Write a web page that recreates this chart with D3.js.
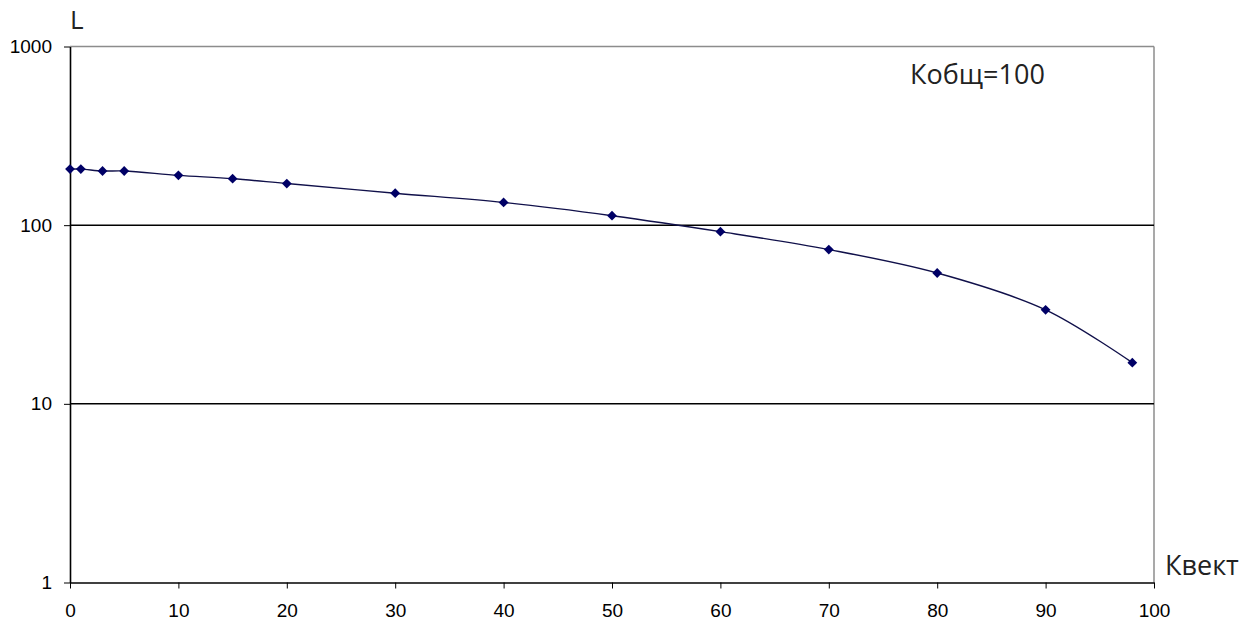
<!DOCTYPE html>
<html>
<head>
<meta charset="utf-8">
<script src="https://cdn.jsdelivr.net/npm/d3@7"></script>
<style>
  body { margin: 0; background: #fff; }
  svg { display: block; }
</style>
</head>
<body>
<div id="chart"></div>
<script>
// values
const kvekt = [0, 1, 3, 5, 10, 15, 20, 30, 40, 50, 60, 70, 80, 90, 98];
const lengths = [206, 206, 201, 201, 190, 182, 171, 151, 134, 113, 92, 73, 54, 33.6, 17];
const xTicks = [0, 10, 20, 30, 40, 50, 60, 70, 80, 90, 100];
const yTicks = [1, 10, 100, 1000];
const note = "Кобщ=100";

//Dimensions and margins
var margin = { top: 46.5, right: 105, bottom: 39.5, left: 70 },
    width = 1259 - margin.left - margin.right,
    height = 622 - margin.top - margin.bottom;

var svg = d3.select("#chart")
    .append("svg")
    .attr("width", 1259)
    .attr("height", 622)
    .append("g")
    .attr("transform", "translate(" + margin.left + "," + margin.top + ")");

var x = d3.scaleLinear().domain([0, 100]).range([0, width]);
var y = d3.scaleLog().domain([1, 1000]).range([height, 0]);

//Plot area border (top and right, grey)
svg.append("line")
    .attr("x1", 0).attr("x2", width)
    .attr("y1", y(1000)).attr("y2", y(1000))
    .attr("stroke", "#8c8c8c").attr("stroke-width", 1.5);
svg.append("line")
    .attr("x1", width).attr("x2", width)
    .attr("y1", 0).attr("y2", height)
    .attr("stroke", "#8c8c8c").attr("stroke-width", 1.5);

//Gridlines
svg.selectAll(".grid")
    .data([10, 100])
    .enter().append("line")
    .attr("x1", 0).attr("x2", width)
    .attr("y1", d => y(d)).attr("y2", d => y(d))
    .attr("stroke", "#000").attr("stroke-width", 1.5);

//X axis
var xAxis = svg.append("g")
    .attr("transform", "translate(0," + height + ")")
    .call(d3.axisBottom(x).tickValues(xTicks).tickSize(6).tickPadding(15).tickSizeOuter(0));
xAxis.select(".domain").attr("stroke-width", 1.6);
xAxis.selectAll("text")
    .style("font-family", "'Liberation Sans', Arial, sans-serif")
    .style("font-size", "19px")
    .attr("fill", "#000");

//Y axis
var yAxis = svg.append("g")
    .call(d3.axisLeft(y).tickValues(yTicks).tickFormat(d3.format("d")).tickSize(6).tickPadding(12).tickSizeOuter(0));
yAxis.select(".domain").attr("stroke-width", 1.6);
yAxis.selectAll("text")
    .style("font-family", "'Liberation Sans', Arial, sans-serif")
    .style("font-size", "19px")
    .attr("fill", "#000");

//Axis titles
svg.append("text")
    .attr("x", 0)
    .attr("y", -18)
    .style("font-family", "'Open Sans', sans-serif")
    .style("font-size", "26px")
    .attr("fill", "#222")
    .text("L");

svg.append("text")
    .attr("x", width + 11)
    .attr("y", height - 8)
    .style("font-family", "'Open Sans', sans-serif")
    .style("font-size", "27px")
    .attr("fill", "#222")
    .text("Квект");

svg.append("text")
    .attr("x", x(77.5))
    .attr("y", 37)
    .style("font-family", "'Open Sans', sans-serif")
    .style("font-size", "27px")
    .attr("fill", "#222")
    .text(note);

//Smoothed line
var data = kvekt.map((k, i) => ({ k: k, v: lengths[i] }));
var line = d3.line()
    .x(d => x(d.k))
    .y(d => y(d.v))
    .curve(d3.curveCatmullRom.alpha(0.5));

svg.append("path")
    .datum(data)
    .attr("d", line)
    .attr("fill", "none")
    .attr("stroke", "#10104a")
    .attr("stroke-width", 1.4);

//Diamond markers
svg.selectAll(".pt")
    .data(data)
    .enter().append("path")
    .attr("d", d3.symbol(d3.symbolSquare, 48))
    .attr("transform", d => "translate(" + x(d.k) + "," + y(d.v) + ") rotate(45)")
    .attr("fill", "#000066");
</script>
</body>
</html>
